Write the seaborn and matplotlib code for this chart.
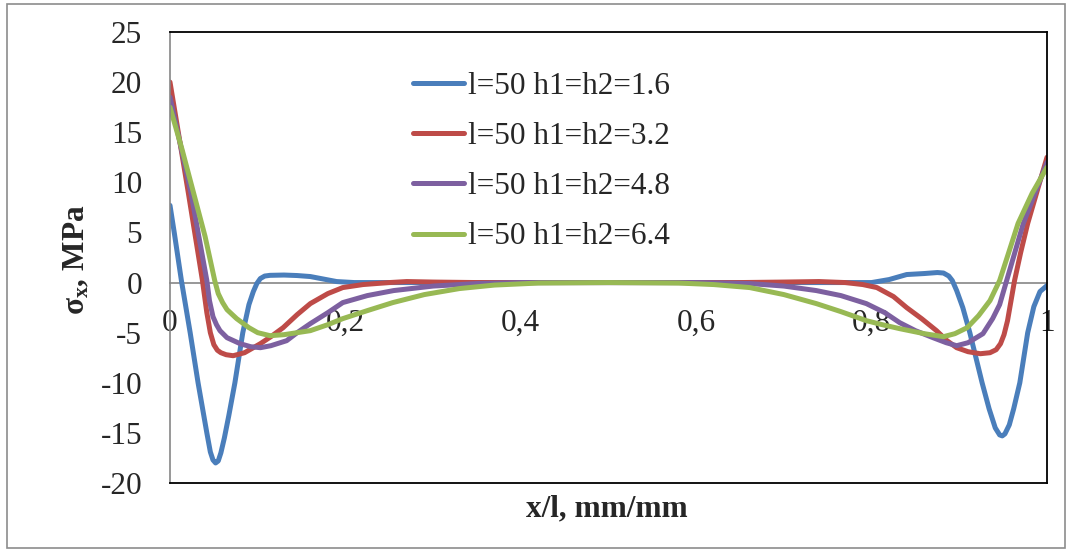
import numpy as np
import pandas as pd
import matplotlib
matplotlib.use("Agg")
import matplotlib.pyplot as plt
from matplotlib.patches import Rectangle
import seaborn as sns

# series labels and colours (Excel 2007 palette)
labels = ["l=50 h1=h2=1.6", "l=50 h1=h2=3.2", "l=50 h1=h2=4.8", "l=50 h1=h2=6.4"]
colors = ["#4A7EBB", "#BE4B48", "#7D60A0", "#98B954"]

# h1=h2=1.6
x_16 = [0, 0.005, 0.013, 0.023, 0.032, 0.042, 0.046, 0.049, 0.052, 0.055, 0.058,
        0.062, 0.067, 0.074, 0.083, 0.09, 0.095, 0.099, 0.103, 0.108, 0.114, 0.13,
        0.145, 0.16, 0.175, 0.19, 0.21, 0.3, 0.5, 0.7, 0.8, 0.82, 0.84, 0.86,
        0.875, 0.882, 0.888, 0.892, 0.897, 0.904, 0.912, 0.926, 0.934, 0.941,
        0.946, 0.949, 0.952, 0.957, 0.962, 0.969, 0.978, 0.985, 0.992, 1.0]
y_16 = [7.7, 4.9, 0.2, -5, -10, -15, -16.9, -17.7, -18, -17.8, -17.0,
        -15.5, -13.3, -10, -5, -2.2, -0.9, -0.1, 0.4, 0.65, 0.72, 0.75,
        0.7, 0.6, 0.35, 0.1, 0, 0, 0, 0, 0, 0.3, 0.8, 0.9,
        1.0, 0.95, 0.65, 0.2, -0.8, -2.5, -5, -10, -12.6, -14.5,
        -15.2, -15.3, -15.1, -14.2, -12.6, -10, -5, -2.4, -0.9, -0.3]

# h1=h2=3.2
x_32 = [0, 0.021, 0.037, 0.042, 0.046, 0.05, 0.054, 0.058, 0.064, 0.072, 0.085,
        0.103, 0.115, 0.129, 0.145, 0.16, 0.18, 0.197, 0.22, 0.25, 0.27, 0.3,
        0.35, 0.65, 0.7, 0.74, 0.77, 0.79, 0.806, 0.825, 0.84, 0.857, 0.874,
        0.886, 0.897, 0.91, 0.924, 0.935, 0.942, 0.947, 0.951, 0.955, 0.959,
        0.963, 0.97, 0.978, 1.0]
y_32 = [20, 8.9, 0.2, -3, -5.0, -6.2, -6.75, -7.0, -7.2, -7.3, -7.0,
        -6.1, -5.4, -4.5, -3.2, -2.1, -1.1, -0.5, -0.2, 0, 0.1, 0.05,
        0, 0, 0.05, 0.1, 0, -0.2, -0.5, -1.4, -2.5, -3.6, -4.8,
        -5.8, -6.5, -6.9, -7.1, -7.0, -6.7, -6.1, -5.2, -3.8, -1.8,
        0.2, 3.0, 5.9, 12.5]

# h1=h2=4.8
x_48 = [0, 0.024, 0.042, 0.045, 0.049, 0.053, 0.057, 0.065, 0.08, 0.092, 0.103,
        0.115, 0.133, 0.145, 0.16, 0.18, 0.197, 0.225, 0.255, 0.3, 0.35, 0.4,
        0.6, 0.661, 0.7, 0.737, 0.765, 0.794, 0.815, 0.832, 0.85, 0.87, 0.885,
        0.897, 0.91, 0.927, 0.938, 0.946, 0.954, 0.963, 0.973, 1.0]
y_48 = [18.5, 8.9, 0.2, -1.8, -3.4, -4.2, -4.8, -5.5, -6.1, -6.4, -6.5,
        -6.3, -5.8, -5.0, -4.1, -3.0, -2.0, -1.3, -0.8, -0.35, -0.1, 0,
        0, -0.1, -0.35, -0.8, -1.3, -2.1, -3.0, -4.0, -4.8, -5.5, -6.0,
        -6.3, -6.0, -5.1, -3.6, -2.2, 0.2, 2.9, 5.9, 12.0]

# h1=h2=6.4
x_64 = [0, 0.014, 0.027, 0.04, 0.051, 0.055, 0.06, 0.065, 0.076, 0.09, 0.1,
        0.114, 0.13, 0.145, 0.16, 0.18, 0.197, 0.225, 0.254, 0.29, 0.33, 0.37,
        0.42, 0.5, 0.58, 0.62, 0.661, 0.7, 0.737, 0.765, 0.794, 0.812, 0.832,
        0.86, 0.882, 0.895, 0.909, 0.922, 0.935, 0.946, 0.956, 0.967, 0.983, 1.0]
y_64 = [17.5, 13.2, 8.9, 4.6, 0.2, -1.1, -2.0, -2.7, -3.6, -4.5, -5.0,
        -5.3, -5.2, -5.0, -4.8, -4.2, -3.6, -2.8, -2.0, -1.2, -0.6, -0.25,
        -0.05, 0, -0.05, -0.2, -0.5, -1.2, -2.1, -2.9, -3.8, -4.2, -4.6,
        -5.1, -5.4, -5.1, -4.5, -3.3, -1.8, 0.2, 2.9, 5.9, 8.9, 11.5]

x_ticks = [0, 0.2, 0.4, 0.6, 0.8, 1.0]
x_ticklabels = ["0", "0,2", "0,4", "0,6", "0,8", "1"]
y_ticks = [-20, -15, -10, -5, 0, 5, 10, 15, 20, 25]

frames = []
for lab, xs, ys in zip(labels, [x_16, x_32, x_48, x_64], [y_16, y_32, y_48, y_64]):
    frames.append(pd.DataFrame({"x": xs, "y": ys, "series": lab}))
df = pd.concat(frames, ignore_index=True)

sns.set_style("white")
plt.rcParams["font.family"] = ["Liberation Serif", "DejaVu Serif"]
plt.rcParams["mathtext.fontset"] = "custom"
plt.rcParams["mathtext.rm"] = "Liberation Serif"
plt.rcParams["mathtext.bf"] = "Liberation Serif:bold"
plt.rcParams["mathtext.it"] = "Liberation Serif:italic"

fs = 22.5
fig = plt.figure(figsize=(10.72, 5.54), dpi=100)
ax = fig.add_axes([170 / 1072, 1 - 483 / 554, 877 / 1072, 451 / 554])

sns.lineplot(data=df, x="x", y="y", hue="series", palette=colors,
             estimator=None, sort=False, linewidth=3.6,
             solid_capstyle="round", solid_joinstyle="round", ax=ax)

ax.set_xlim(0, 1)
ax.set_ylim(-20, 25)
ax.set_yticks(y_ticks)
ax.set_yticklabels([str(v) for v in y_ticks], fontsize=fs)
ax.tick_params(axis="y", length=0, pad=20)
ax.set_xticks([])

# category axis crossing at zero
sec = ax.secondary_xaxis(20 / 45)
sec.set_xticks(x_ticks)
sec.set_xticklabels(x_ticklabels, fontsize=fs)
sec.tick_params(length=0, pad=19)
sec.spines["bottom"].set_color("#868686")
sec.spines["bottom"].set_linewidth(1.2)

for side in ["top", "right", "bottom"]:
    ax.spines[side].set_color("black")
    ax.spines[side].set_linewidth(1.3)
ax.spines["left"].set_color("#868686")
ax.spines["left"].set_linewidth(1.2)

ax.set_xlabel("x/l, mm/mm", fontsize=fs, fontweight="bold")
ax.xaxis.set_label_coords(0.498, -0.025)
ax.set_ylabel(r"σ$_\mathbf{x}$, MPa", fontsize=fs, fontweight="bold")
ax.yaxis.set_label_coords(-0.09, 0.495)

handles, labs = ax.get_legend_handles_labels()
leg = ax.legend(handles, labs, loc="upper left", bbox_to_anchor=(0.277, 0.912),
                frameon=False, fontsize=fs, handlelength=1.65, handletextpad=0.12,
                labelspacing=0.68, borderpad=0, borderaxespad=0)
for h in leg.get_lines():
    h.set_linewidth(3.6)
    h.set_solid_capstyle("round")

# outer chart border
fig.patches.append(Rectangle((7 / 1072, 1 - 548 / 554), 1058 / 1072, 544 / 554,
                             transform=fig.transFigure, fill=False,
                             edgecolor="#8c8c8c", linewidth=1.2))

fig.savefig("out.png", dpi=100)
plt.close(fig)
